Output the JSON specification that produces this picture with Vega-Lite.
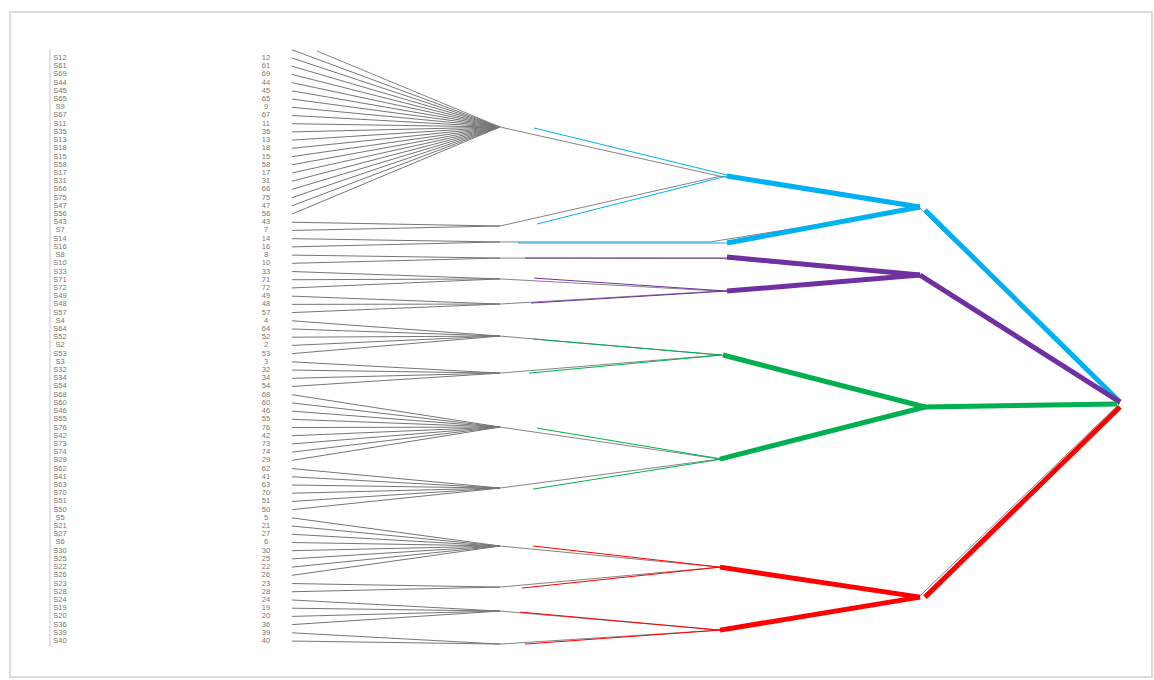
{
  "$schema": "https://vega.github.io/schema/vega-lite/v6.json",
  "width": 1142,
  "height": 665,
  "autosize": {"type": "none"},
  "padding": {"top": 12, "left": 10, "right": 2, "bottom": 3},
  "background": "white",
  "config": {"view": {"stroke": "#cfcfcf", "strokeWidth": 1.5}},
  "datasets": {
    "leaves": [
      {"row": 0, "label": "", "num": "", "depth": 0, "px": 2.08, "py": 9.4},
      {"row": 1, "label": "S12", "num": "12", "depth": 0, "px": 2.08, "py": 9.4},
      {"row": 2, "label": "S61", "num": "61", "depth": 0, "px": 2.08, "py": 9.4},
      {"row": 3, "label": "S69", "num": "69", "depth": 0, "px": 2.08, "py": 9.4},
      {"row": 4, "label": "S44", "num": "44", "depth": 0, "px": 2.08, "py": 9.4},
      {"row": 5, "label": "S45", "num": "45", "depth": 0, "px": 2.08, "py": 9.4},
      {"row": 6, "label": "S65", "num": "65", "depth": 0, "px": 2.08, "py": 9.4},
      {"row": 7, "label": "S9", "num": "9", "depth": 0, "px": 2.08, "py": 9.4},
      {"row": 8, "label": "S67", "num": "67", "depth": 0, "px": 2.08, "py": 9.4},
      {"row": 9, "label": "S11", "num": "11", "depth": 0, "px": 2.08, "py": 9.4},
      {"row": 10, "label": "S35", "num": "35", "depth": 0, "px": 2.08, "py": 9.4},
      {"row": 11, "label": "S13", "num": "13", "depth": 0, "px": 2.08, "py": 9.4},
      {"row": 12, "label": "S18", "num": "18", "depth": 0, "px": 2.08, "py": 9.4},
      {"row": 13, "label": "S15", "num": "15", "depth": 0, "px": 2.08, "py": 9.4},
      {"row": 14, "label": "S58", "num": "58", "depth": 0, "px": 2.08, "py": 9.4},
      {"row": 15, "label": "S17", "num": "17", "depth": 0, "px": 2.08, "py": 9.4},
      {"row": 16, "label": "S31", "num": "31", "depth": 0, "px": 2.08, "py": 9.4},
      {"row": 17, "label": "S66", "num": "66", "depth": 0, "px": 2.08, "py": 9.4},
      {"row": 18, "label": "S75", "num": "75", "depth": 0, "px": 2.08, "py": 9.4},
      {"row": 19, "label": "S47", "num": "47", "depth": 0, "px": 2.08, "py": 9.4},
      {"row": 20, "label": "S56", "num": "56", "depth": 0, "px": 2.08, "py": 9.4},
      {"row": 21, "label": "S43", "num": "43", "depth": 0, "px": 2.08, "py": 21.46},
      {"row": 22, "label": "S7", "num": "7", "depth": 0, "px": 2.08, "py": 21.46},
      {"row": 23, "label": "S14", "num": "14", "depth": 0, "px": 2.08, "py": 23.4},
      {"row": 24, "label": "S16", "num": "16", "depth": 0, "px": 2.08, "py": 23.4},
      {"row": 25, "label": "S8", "num": "8", "depth": 0, "px": 2.08, "py": 25.36},
      {"row": 26, "label": "S10", "num": "10", "depth": 0, "px": 2.08, "py": 25.36},
      {"row": 27, "label": "S33", "num": "33", "depth": 0, "px": 2.08, "py": 27.9},
      {"row": 28, "label": "S71", "num": "71", "depth": 0, "px": 2.08, "py": 27.9},
      {"row": 29, "label": "S72", "num": "72", "depth": 0, "px": 2.08, "py": 27.9},
      {"row": 30, "label": "S49", "num": "49", "depth": 0, "px": 2.08, "py": 30.96},
      {"row": 31, "label": "S48", "num": "48", "depth": 0, "px": 2.08, "py": 30.96},
      {"row": 32, "label": "S57", "num": "57", "depth": 0, "px": 2.08, "py": 30.96},
      {"row": 33, "label": "S4", "num": "4", "depth": 0, "px": 2.08, "py": 34.86},
      {"row": 34, "label": "S64", "num": "64", "depth": 0, "px": 2.08, "py": 34.86},
      {"row": 35, "label": "S52", "num": "52", "depth": 0, "px": 2.08, "py": 34.86},
      {"row": 36, "label": "S2", "num": "2", "depth": 0, "px": 2.08, "py": 34.86},
      {"row": 37, "label": "S53", "num": "53", "depth": 0, "px": 2.08, "py": 34.86},
      {"row": 38, "label": "S3", "num": "3", "depth": 0, "px": 2.08, "py": 39.37},
      {"row": 39, "label": "S32", "num": "32", "depth": 0, "px": 2.08, "py": 39.37},
      {"row": 40, "label": "S34", "num": "34", "depth": 0, "px": 2.08, "py": 39.37},
      {"row": 41, "label": "S54", "num": "54", "depth": 0, "px": 2.08, "py": 39.37},
      {"row": 42, "label": "S68", "num": "68", "depth": 0, "px": 2.08, "py": 45.94},
      {"row": 43, "label": "S60", "num": "60", "depth": 0, "px": 2.08, "py": 45.94},
      {"row": 44, "label": "S46", "num": "46", "depth": 0, "px": 2.08, "py": 45.94},
      {"row": 45, "label": "S55", "num": "55", "depth": 0, "px": 2.08, "py": 45.94},
      {"row": 46, "label": "S76", "num": "76", "depth": 0, "px": 2.08, "py": 45.94},
      {"row": 47, "label": "S42", "num": "42", "depth": 0, "px": 2.08, "py": 45.94},
      {"row": 48, "label": "S73", "num": "73", "depth": 0, "px": 2.08, "py": 45.94},
      {"row": 49, "label": "S74", "num": "74", "depth": 0, "px": 2.08, "py": 45.94},
      {"row": 50, "label": "S29", "num": "29", "depth": 0, "px": 2.08, "py": 45.94},
      {"row": 51, "label": "S62", "num": "62", "depth": 0, "px": 2.08, "py": 53.37},
      {"row": 52, "label": "S41", "num": "41", "depth": 0, "px": 2.08, "py": 53.37},
      {"row": 53, "label": "S63", "num": "63", "depth": 0, "px": 2.08, "py": 53.37},
      {"row": 54, "label": "S70", "num": "70", "depth": 0, "px": 2.08, "py": 53.37},
      {"row": 55, "label": "S51", "num": "51", "depth": 0, "px": 2.08, "py": 53.37},
      {"row": 56, "label": "S50", "num": "50", "depth": 0, "px": 2.08, "py": 53.37},
      {"row": 57, "label": "S5", "num": "5", "depth": 0, "px": 2.08, "py": 60.43},
      {"row": 58, "label": "S21", "num": "21", "depth": 0, "px": 2.08, "py": 60.43},
      {"row": 59, "label": "S27", "num": "27", "depth": 0, "px": 2.08, "py": 60.43},
      {"row": 60, "label": "S6", "num": "6", "depth": 0, "px": 2.08, "py": 60.43},
      {"row": 61, "label": "S30", "num": "30", "depth": 0, "px": 2.08, "py": 60.43},
      {"row": 62, "label": "S25", "num": "25", "depth": 0, "px": 2.08, "py": 60.43},
      {"row": 63, "label": "S22", "num": "22", "depth": 0, "px": 2.08, "py": 60.43},
      {"row": 64, "label": "S26", "num": "26", "depth": 0, "px": 2.08, "py": 60.43},
      {"row": 65, "label": "S23", "num": "23", "depth": 0, "px": 2.08, "py": 65.43},
      {"row": 66, "label": "S28", "num": "28", "depth": 0, "px": 2.08, "py": 65.43},
      {"row": 67, "label": "S24", "num": "24", "depth": 0, "px": 2.08, "py": 68.35},
      {"row": 68, "label": "S19", "num": "19", "depth": 0, "px": 2.08, "py": 68.35},
      {"row": 69, "label": "S20", "num": "20", "depth": 0, "px": 2.08, "py": 68.35},
      {"row": 70, "label": "S36", "num": "36", "depth": 0, "px": 2.08, "py": 68.35},
      {"row": 71, "label": "S39", "num": "39", "depth": 0, "px": 2.08, "py": 72.37},
      {"row": 72, "label": "S40", "num": "40", "depth": 0, "px": 2.08, "py": 72.37}
    ],
    "links": [
      {"grp": "frame", "w": "thin", "x": -2.42, "y": -0.1, "x2": -2.42, "y2": 72.7},
      {"grp": "gray", "w": "thin", "x": 0.25, "y": 0.15, "x2": 2.08, "y2": 9.4},
      {"grp": "gray", "w": "thin", "x": 2.08, "y": 9.4, "x2": 4.28, "y2": 15.4},
      {"grp": "gray", "w": "thin", "x": 2.08, "y": 21.46, "x2": 4.28, "y2": 15.4},
      {"grp": "gray", "w": "thin", "x": 2.08, "y": 23.4, "x2": 4.18, "y2": 23.4},
      {"grp": "gray", "w": "thin", "x": 2.08, "y": 25.36, "x2": 4.28, "y2": 25.4},
      {"grp": "gray", "w": "thin", "x": 2.08, "y": 27.9, "x2": 4.28, "y2": 29.38},
      {"grp": "gray", "w": "thin", "x": 2.08, "y": 30.96, "x2": 4.28, "y2": 29.38},
      {"grp": "gray", "w": "thin", "x": 2.08, "y": 34.86, "x2": 4.28, "y2": 37.17},
      {"grp": "gray", "w": "thin", "x": 2.08, "y": 39.37, "x2": 4.28, "y2": 37.17},
      {"grp": "gray", "w": "thin", "x": 2.08, "y": 45.94, "x2": 4.28, "y2": 49.84},
      {"grp": "gray", "w": "thin", "x": 2.08, "y": 53.37, "x2": 4.28, "y2": 49.84},
      {"grp": "gray", "w": "thin", "x": 2.08, "y": 60.43, "x2": 4.28, "y2": 63.0},
      {"grp": "gray", "w": "thin", "x": 2.08, "y": 65.43, "x2": 4.28, "y2": 63.0},
      {"grp": "gray", "w": "thin", "x": 2.08, "y": 68.35, "x2": 4.28, "y2": 70.67},
      {"grp": "gray", "w": "thin", "x": 2.08, "y": 72.37, "x2": 4.28, "y2": 70.67},
      {"grp": "gray", "w": "thin", "x": 4.28, "y": 15.4, "x2": 6.28, "y2": 19.3},
      {"grp": "gray", "w": "thin", "x": 4.18, "y": 23.4, "x2": 6.28, "y2": 19.3},
      {"grp": "gray", "w": "thin", "x": 4.28, "y": 25.4, "x2": 6.28, "y2": 27.55},
      {"grp": "gray", "w": "thin", "x": 4.28, "y": 29.38, "x2": 6.28, "y2": 27.55},
      {"grp": "gray", "w": "thin", "x": 4.28, "y": 37.17, "x2": 6.33, "y2": 43.4},
      {"grp": "gray", "w": "thin", "x": 4.28, "y": 49.84, "x2": 6.33, "y2": 43.4},
      {"grp": "gray", "w": "thin", "x": 4.28, "y": 63.0, "x2": 6.28, "y2": 66.5},
      {"grp": "gray", "w": "thin", "x": 4.28, "y": 70.67, "x2": 6.28, "y2": 66.5},
      {"grp": "gray", "w": "thin", "x": 6.28, "y": 19.3, "x2": 8.28, "y2": 43.02},
      {"grp": "gray", "w": "thin", "x": 6.28, "y": 27.55, "x2": 8.28, "y2": 43.02},
      {"grp": "gray", "w": "thin", "x": 6.33, "y": 43.4, "x2": 8.28, "y2": 43.02},
      {"grp": "gray", "w": "thin", "x": 6.28, "y": 66.5, "x2": 8.28, "y2": 43.02},
      {"grp": "blue", "w": "thin", "x": 2.42, "y": 9.52, "x2": 4.35, "y2": 15.25},
      {"grp": "blue", "w": "thin", "x": 2.45, "y": 21.22, "x2": 4.35, "y2": 15.37},
      {"grp": "blue", "w": "thin", "x": 2.26, "y": 23.53, "x2": 4.35, "y2": 23.53},
      {"grp": "purple", "w": "thin", "x": 2.33, "y": 25.36, "x2": 4.35, "y2": 25.36},
      {"grp": "purple", "w": "thin", "x": 2.42, "y": 27.8, "x2": 4.35, "y2": 29.38},
      {"grp": "purple", "w": "thin", "x": 2.39, "y": 30.84, "x2": 4.35, "y2": 29.38},
      {"grp": "green", "w": "thin", "x": 2.41, "y": 35.22, "x2": 4.3, "y2": 37.17},
      {"grp": "green", "w": "thin", "x": 2.37, "y": 39.37, "x2": 4.3, "y2": 37.17},
      {"grp": "green", "w": "thin", "x": 2.45, "y": 46.07, "x2": 4.3, "y2": 49.84},
      {"grp": "green", "w": "thin", "x": 2.41, "y": 53.5, "x2": 4.3, "y2": 49.84},
      {"grp": "red", "w": "thin", "x": 2.41, "y": 60.43, "x2": 4.28, "y2": 63.0},
      {"grp": "red", "w": "thin", "x": 2.3, "y": 65.55, "x2": 4.28, "y2": 63.0},
      {"grp": "red", "w": "thin", "x": 2.28, "y": 68.47, "x2": 4.28, "y2": 70.67},
      {"grp": "red", "w": "thin", "x": 2.33, "y": 72.37, "x2": 4.28, "y2": 70.67},
      {"grp": "blue", "w": "thick", "x": 4.35, "y": 15.37, "x2": 6.28, "y2": 19.15},
      {"grp": "blue", "w": "thick", "x": 4.35, "y": 23.53, "x2": 6.28, "y2": 19.15},
      {"grp": "blue", "w": "thick", "x": 6.33, "y": 19.51, "x2": 8.28, "y2": 42.9},
      {"grp": "purple", "w": "thick", "x": 4.35, "y": 25.24, "x2": 6.28, "y2": 27.43},
      {"grp": "purple", "w": "thick", "x": 4.35, "y": 29.38, "x2": 6.28, "y2": 27.43},
      {"grp": "purple", "w": "thick", "x": 6.28, "y": 27.43, "x2": 8.28, "y2": 42.9},
      {"grp": "green", "w": "thick", "x": 4.31, "y": 37.17, "x2": 6.33, "y2": 43.5},
      {"grp": "green", "w": "thick", "x": 4.28, "y": 49.84, "x2": 6.33, "y2": 43.5},
      {"grp": "green", "w": "thick", "x": 6.33, "y": 43.5, "x2": 8.25, "y2": 43.14},
      {"grp": "red", "w": "thick", "x": 4.28, "y": 63.0, "x2": 6.28, "y2": 66.65},
      {"grp": "red", "w": "thick", "x": 4.28, "y": 70.67, "x2": 6.28, "y2": 66.65},
      {"grp": "red", "w": "thick", "x": 6.33, "y": 66.65, "x2": 8.28, "y2": 43.5}
    ]
  },
  "layer": [
    {
      "data": {"name": "leaves"},
      "mark": {"type": "rule", "stroke": "#767676", "strokeWidth": 1},
      "encoding": {
        "x": {"field": "depth", "type": "quantitative", "scale": {"domain": [-2.82, 8.6], "nice": false, "zero": false}, "axis": null},
        "y": {"field": "row", "type": "quantitative", "scale": {"domain": [-4.604, 76.38], "nice": false, "zero": false, "reverse": true}, "axis": null},
        "x2": {"field": "px"},
        "y2": {"field": "py"}
      }
    },
    {
      "data": {"name": "links"},
      "transform": [{"filter": "datum.w === 'thin'"}],
      "mark": {"type": "rule", "strokeWidth": 1},
      "encoding": {
        "x": {"field": "x", "type": "quantitative", "axis": null},
        "y": {"field": "y", "type": "quantitative", "axis": null},
        "x2": {"field": "x2"},
        "y2": {"field": "y2"},
        "color": {"field": "grp", "type": "nominal", "scale": {"domain": ["frame", "gray", "blue", "purple", "green", "red"], "range": ["#c8c8c8", "#858585", "#00B0F0", "#7030A0", "#00B050", "#FF0000"]}, "legend": null}
      }
    },
    {
      "data": {"name": "links"},
      "transform": [{"filter": "datum.w === 'thick'"}],
      "mark": {"type": "rule", "strokeWidth": 5},
      "encoding": {
        "x": {"field": "x", "type": "quantitative", "axis": null},
        "y": {"field": "y", "type": "quantitative", "axis": null},
        "x2": {"field": "x2"},
        "y2": {"field": "y2"},
        "color": {"field": "grp", "type": "nominal", "legend": null}
      }
    },
    {
      "data": {"name": "leaves"},
      "mark": {"type": "text", "fontSize": 7.5, "font": "Liberation Sans", "fill": "#777777", "align": "center", "baseline": "middle"},
      "encoding": {
        "x": {"datum": -2.32, "type": "quantitative", "axis": null},
        "y": {"field": "row", "type": "quantitative", "axis": null},
        "text": {"field": "label", "type": "nominal"}
      }
    },
    {
      "data": {"name": "leaves"},
      "mark": {"type": "text", "fontSize": 7.5, "font": "Liberation Sans", "fill": "#777777", "align": "center", "baseline": "middle"},
      "encoding": {
        "x": {"datum": -0.26, "type": "quantitative", "axis": null},
        "y": {"field": "row", "type": "quantitative", "axis": null},
        "text": {"field": "num", "type": "nominal"}
      }
    }
  ]
}
